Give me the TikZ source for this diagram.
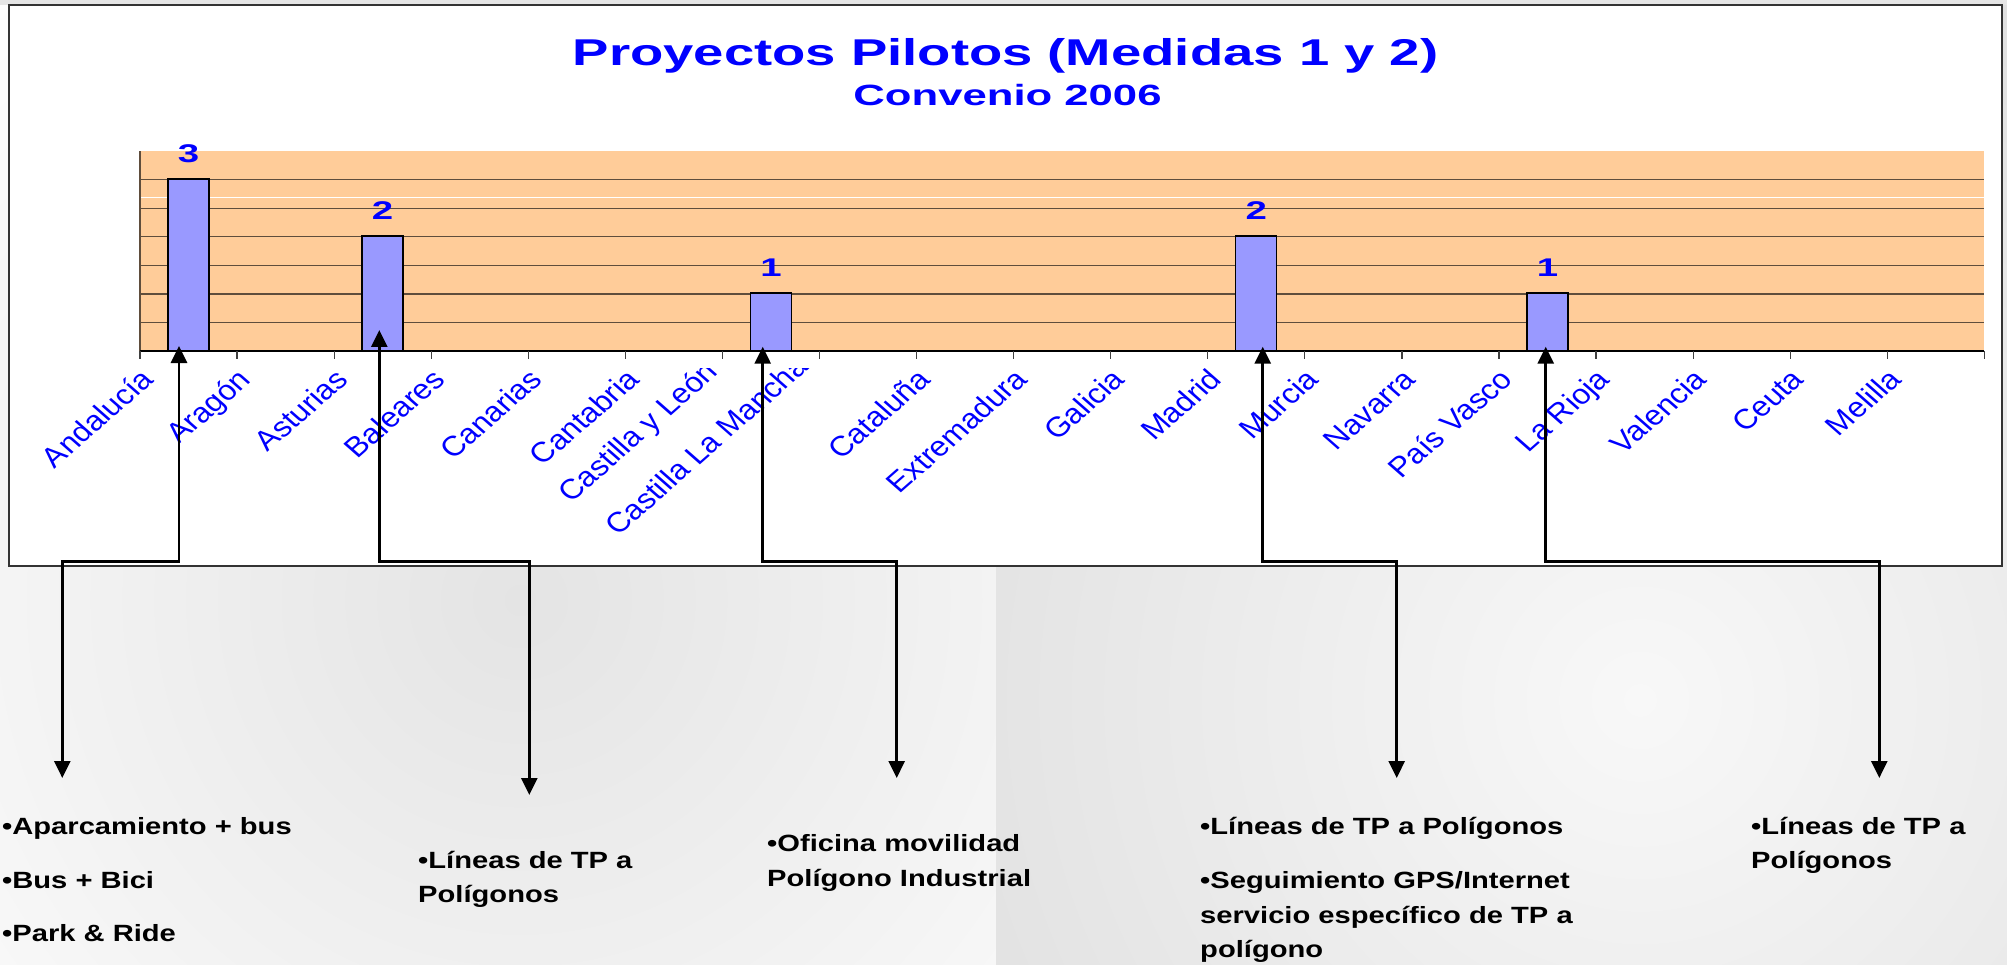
\documentclass[tikz,border=0pt]{standalone}
\usepackage{fontspec}
\setmainfont{Liberation Sans}
\newfontfamily\titlefont{Liberation Sans}[FakeStretch=1.46]
\newfontfamily\subtfont{Liberation Sans}[FakeStretch=1.49]
\newfontfamily\valfont{Liberation Sans}[FakeStretch=1.5]
\newfontfamily\bodyfont{Liberation Sans}[FakeStretch=1.24]
\newfontfamily\catfont{Liberation Sans}
\usetikzlibrary{arrows.meta}
\definecolor{tblue}{RGB}{0,0,255}
\definecolor{plotbg}{RGB}{255,204,153}
\definecolor{barfill}{RGB}{153,153,255}
\definecolor{gridc}{RGB}{95,77,60}
\definecolor{lpanel}{RGB}{228,228,228}
\definecolor{rpanelin}{RGB}{248,248,248}
\definecolor{rpanelout}{RGB}{208,208,208}
\begin{document}
\begin{tikzpicture}[x=1pt,y=-1pt,
  titlestyle/.style={anchor=base, inner sep=0, text=tblue, font={\titlefont\bfseries\fontsize{37.3}{40}\selectfont}},
  subtstyle/.style={anchor=base, inner sep=0, text=tblue, font={\subtfont\bfseries\fontsize{29.3}{32}\selectfont}},
  valstyle/.style={anchor=base, inner sep=0, text=tblue, font={\valfont\bfseries\fontsize{25.6}{28}\selectfont}},
  catlbl/.style={anchor=base east, inner sep=0, text=tblue, transform shape, font={\catfont\fontsize{28}{30}\selectfont}},
  bodytext/.style={anchor=base west, inner sep=0, text=black, font={\bodyfont\bfseries\fontsize{23.5}{28}\selectfont}},
  barbox/.style={draw=black, line width=1.4pt, fill=barfill, minimum width=41pt, inner sep=0, anchor=south},
  gridline/.style={draw=gridc, line width=1.3pt},
  ticks/.style={draw=black!75, line width=1.2pt},
  conn/.style={line width=2.7pt, line join=miter, {Triangle[length=17pt,width=16pt]}-{Triangle[length=17pt,width=16pt]}}
]
\useasboundingbox (0,0) rectangle (2007,965);
% background panels
\begin{scope}
  \clip (0,0) rectangle (996,965);
  \fill[white] (0,0) rectangle (996,965);
  \shade[inner color=lpanel, outer color=white] (520,600) circle (860pt);
\end{scope}
\begin{scope}
  \clip (996,0) rectangle (2007,965);
  \shade[inner color=rpanelin, outer color=rpanelout] (1640,700) circle (1300pt);
\end{scope}
\fill[black!10] (0,0) rectangle (2007,5);
% chart frame
\draw[fill=white, draw=black!80, line width=1.5pt] (9,5) rectangle (2002,566);
% plot area
\fill[plotbg] (140,151.15) rectangle (1984.3,351);
\foreach \j in {1,...,6} \draw[gridline] (140,{351-\j*28.55}) -- (1984.3,{351-\j*28.55});
\draw[white, line width=0.8pt] (140,197.3) -- (1984.3,197.3);
\draw[gridline] (140,151.15) -- (140,351);
% bars
\node[barbox, minimum height=171.3pt] (b1) at (188.5,351) {};
\node[barbox, minimum height=114.2pt] (b2) at (382.64,351) {};
\node[barbox, minimum height=57.1pt] (b3) at (770.92,351) {};
\node[barbox, minimum height=114.2pt] (b4) at (1256.27,351) {};
\node[barbox, minimum height=57.1pt] (b5) at (1547.48,351) {};
% axis and ticks
\draw[black, line width=1.4pt] (140,351) -- (1984.3,351);
\foreach \j in {0,...,19} \draw[ticks] ({140+\j*97.07},351) -- ({140+\j*97.07},359);
% value labels
\node[valstyle] (v1) at (188.5,163) {3};
\node[valstyle] (v2) at (382.64,220) {2};
\node[valstyle] (v3) at (770.92,277) {1};
\node[valstyle] (v4) at (1256.27,220) {2};
\node[valstyle] (v5) at (1547.48,277) {1};
% category labels
\foreach \i/\t in {0/Andalucía, 1/Aragón, 2/Asturias, 3/Baleares, 4/Canarias, 5/Cantabria, 8/Cataluña, 9/Extremadura, 10/Galicia, 11/Madrid, 12/Murcia, 13/Navarra, 14/País Vasco, 15/La Rioja, 16/Valencia, 17/Ceuta, 18/Melilla}{
  \begin{scope}[shift={({155.5+97.07*\i},381)}, xscale=1.14, rotate=45]
    \node[catlbl] (cat\i) at (0,0) {\t};
  \end{scope}
}
\begin{scope}
  \clip (400,368) rectangle (1000,600);
  \begin{scope}[shift={(719.7,373.5)}, xscale=1.14, rotate=45]
    \node[catlbl] (cat6) at (0,0) {Castilla y León};
  \end{scope}
  \begin{scope}[shift={(810.3,368.3)}, xscale=1.14, rotate=45]
    \node[catlbl] (cat7) at (0,0) {Castilla La Mancha};
  \end{scope}
\end{scope}
% title
\node[titlestyle] (title) at (1005.5,65.7) {Proyectos Pilotos (Medidas 1 y 2)};
\node[subtstyle] (subtitle) at (1007.5,106) {Convenio 2006};
% connector coordinates
\coordinate (u1) at (179,346);   \coordinate (k1) at (179,561.7);   \coordinate (d1) at (62.3,778);
\coordinate (u2) at (379.3,330); \coordinate (k2) at (379.3,561.7); \coordinate (d2) at (529.3,795);
\coordinate (u3) at (762.7,346.7); \coordinate (k3) at (762.7,561.7); \coordinate (d3) at (896.7,778);
\coordinate (u4) at (1262.7,346.7); \coordinate (k4) at (1262.7,561.7); \coordinate (d4) at (1396.7,778);
\coordinate (u5) at (1545.7,346.7); \coordinate (k5) at (1545.7,561.7); \coordinate (d5) at (1879.3,778);
\foreach \n in {1,...,5} \draw[conn] (u\n) -- (k\n) -| (d\n);
% bottom texts
\node[bodytext] (t1a) at (2,834) {•Aparcamiento + bus};
\node[bodytext] (t1b) at (2,888) {•Bus + Bici};
\node[bodytext] (t1c) at (2,941) {•Park \& Ride};
\node[bodytext] (t2a) at (418,868) {•Líneas de TP a};
\node[bodytext] (t2b) at (418,902) {Polígonos};
\node[bodytext] (t3a) at (767,851) {•Oficina movilidad};
\node[bodytext] (t3b) at (767,886) {Polígono Industrial};
\node[bodytext] (t4a) at (1200,834) {•Líneas de TP a Polígonos};
\node[bodytext] (t4b) at (1200,888) {•Seguimiento GPS/Internet};
\node[bodytext] (t4c) at (1200,923) {servicio específico de TP a};
\node[bodytext] (t4d) at (1200,957) {polígono};
\node[bodytext] (t5a) at (1751,834) {•Líneas de TP a};
\node[bodytext] (t5b) at (1751,868) {Polígonos};
\end{tikzpicture}
\end{document}
